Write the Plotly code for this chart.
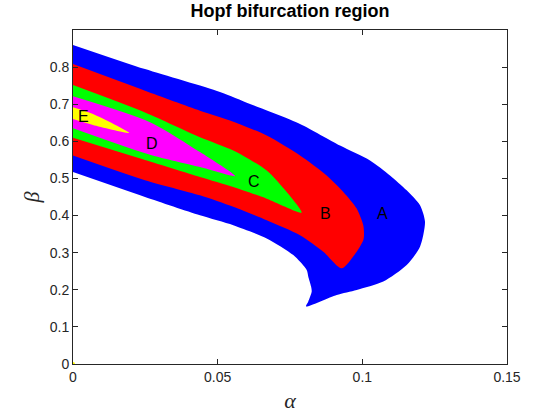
import plotly.graph_objects as go

# Region boundaries (alpha, beta)
A_alpha = [0, 0.02488, 0.05080, 0.06118, 0.07846, 0.09228, 0.10265, 0.10956, 0.11533, 0.11993, 0.12166,
           0.11993, 0.11533, 0.10725, 0.09805, 0.09114, 0.08053,
           0.08132, 0.08250, 0.08226, 0.08132, 0.08077, 0.07614, 0.06695, 0.05540, 0.04389, 0.02488, 0]
A_beta = [0.8599, 0.7946, 0.7329, 0.7007, 0.6470, 0.5887, 0.5485, 0.5082, 0.4679, 0.4277, 0.3831,
          0.3160, 0.2666, 0.2220, 0.1995, 0.1860, 0.1549,
          0.1683, 0.1952, 0.2094, 0.2354, 0.2532, 0.2934, 0.3383, 0.3740, 0.4008, 0.4502, 0.5173]

B_alpha = [0, 0.02488, 0.04389, 0.05540, 0.06695, 0.07846, 0.08768, 0.09342, 0.09805, 0.10033, 0.10058,
           0.10033, 0.09805, 0.09287,
           0.08651, 0.07846, 0.06695, 0.05540, 0.04389, 0.02488, 0]
B_beta = [0.8081, 0.7364, 0.6827, 0.6530, 0.6156, 0.5619, 0.5082, 0.4636, 0.4188, 0.3740, 0.3471,
          0.3337, 0.3026, 0.2577,
          0.3026, 0.3471, 0.3874, 0.4234, 0.4545, 0.4953, 0.5619]

C_alpha = [0, 0.02488, 0.04389, 0.05540, 0.06695, 0.07386, 0.07904,
           0.06695, 0.05540, 0.04389, 0.02488, 0]
C_beta = [0.7517, 0.6779, 0.6113, 0.5753, 0.5216, 0.4636, 0.4081,
          0.4456, 0.4770, 0.5039, 0.5495, 0.6094]

D_alpha = [0, 0.02661, 0.04389, 0.05599, 0.04389, 0.02661, 0]
D_beta = [0.7213, 0.6515, 0.5710, 0.5066, 0.5307, 0.5638, 0.6354]

E_alpha = [0, 0.00691, 0.01946, 0.00691, 0]
E_beta = [0.6918, 0.6738, 0.6228, 0.6443, 0.6604]

region_names = ["A", "B", "C", "D", "E"]
region_colors = ["#0000FF", "#FF0000", "#00FF00", "#FF00FF", "#FFFF00"]
label_alpha = [0.1071, 0.0871, 0.0626, 0.0273, 0.0035]
label_beta = [0.405, 0.405, 0.491, 0.593, 0.668]

x_ticks = [0, 0.05, 0.1, 0.15]
x_tick_text = ["0", "0.05", "0.1", "0.15"]
y_ticks = [0, 0.1, 0.2, 0.3, 0.4, 0.5, 0.6, 0.7, 0.8]
y_tick_text = ["0", "0.1", "0.2", "0.3", "0.4", "0.5", "0.6", "0.7", "0.8"]

regions = [(A_alpha, A_beta), (B_alpha, B_beta), (C_alpha, C_beta), (D_alpha, D_beta), (E_alpha, E_beta)]

fig = go.Figure()
for (xa, yb), name, col in zip(regions, region_names, region_colors):
    fig.add_trace(go.Scatter(x=xa, y=yb, fill="toself", fillcolor=col, mode="lines",
                             line=dict(width=0, color=col, shape="spline", smoothing=0.7),
                             name=name, hoverinfo="skip"))

# tiny yellow dot at origin
fig.add_trace(go.Scatter(x=[0], y=[0], mode="markers", marker=dict(color="#FFFF00", size=4),
                         hoverinfo="skip"))

for name, xa, yb in zip(region_names, label_alpha, label_beta):
    fig.add_annotation(x=xa, y=yb, text=name, showarrow=False,
                       font=dict(family="Liberation Sans, Arial", size=16, color="black"))

axis_common = dict(showline=True, linecolor="#262626", linewidth=1, mirror="ticks",
                   ticks="inside", ticklen=5, tickcolor="#262626", showgrid=False, zeroline=False,
                   tickfont=dict(family="Liberation Sans, Arial", size=14, color="#262626"))

fig.update_layout(
    width=560, height=420,
    margin=dict(l=73, r=53, t=30, b=54),
    plot_bgcolor="white", paper_bgcolor="white",
    showlegend=False,
    title=dict(text="<b>Hopf bifurcation region</b>", x=0.518, xanchor="center", y=0.975, yanchor="middle",
               font=dict(family="Liberation Sans, Arial", size=18, color="black")),
    xaxis=dict(range=[0, 0.15], tickvals=x_ticks, ticktext=x_tick_text,
               title=dict(text="<i>α</i>", font=dict(family="Liberation Serif, Times New Roman", size=22, color="#262626"), standoff=8),
               **axis_common),
    yaxis=dict(range=[0, 0.9], tickvals=y_ticks, ticktext=y_tick_text,
               title=dict(text="<i>β</i>", font=dict(family="Liberation Serif, Times New Roman", size=22, color="#262626"), standoff=4),
               **axis_common),
)

fig.write_html("out.html")
